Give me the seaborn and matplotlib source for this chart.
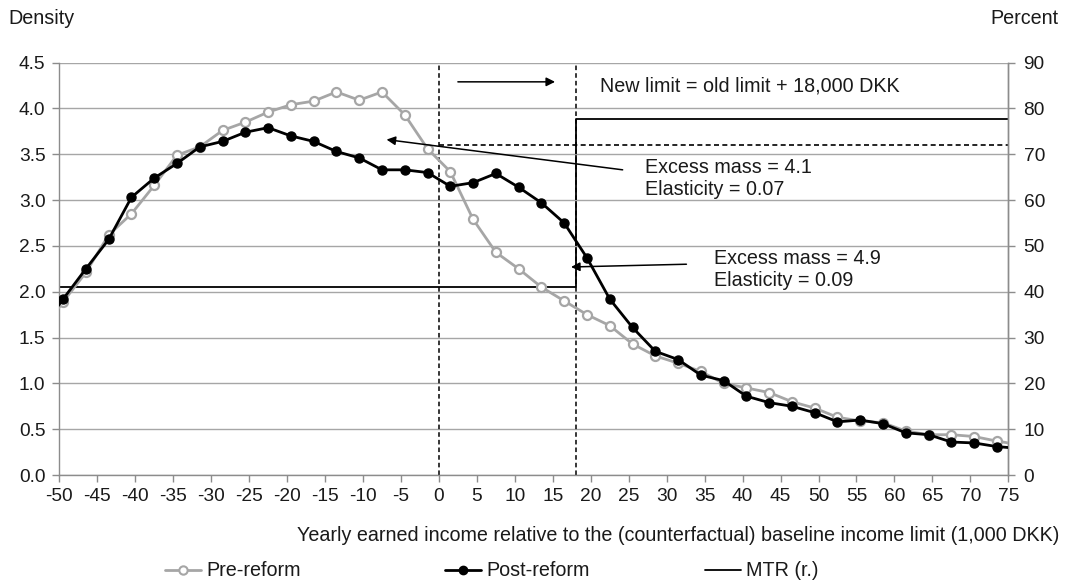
import matplotlib
matplotlib.use("Agg")
import matplotlib.pyplot as plt
import seaborn as sns
import pandas as pd
from matplotlib.lines import Line2D

# ---- data ----
income_bins = [-52.5, -49.5, -46.5, -43.5, -40.5, -37.5, -34.5, -31.5, -28.5, -25.5,
               -22.5, -19.5, -16.5, -13.5, -10.5, -7.5, -4.5, -1.5, 1.5, 4.5,
               7.5, 10.5, 13.5, 16.5, 19.5, 22.5, 25.5, 28.5, 31.5, 34.5,
               37.5, 40.5, 43.5, 46.5, 49.5, 52.5, 55.5, 58.5, 61.5, 64.5,
               67.5, 70.5, 73.5, 76.5]
pre_reform = [1.55, 1.89, 2.21, 2.62, 2.85, 3.16, 3.49, 3.58, 3.76, 3.85,
              3.96, 4.04, 4.08, 4.18, 4.09, 4.18, 3.93, 3.56, 3.31, 2.79,
              2.43, 2.25, 2.05, 1.90, 1.75, 1.63, 1.43, 1.30, 1.22, 1.13,
              1.00, 0.95, 0.90, 0.80, 0.73, 0.63, 0.59, 0.57, 0.48, 0.44,
              0.44, 0.42, 0.37, 0.33]
post_reform = [1.58, 1.92, 2.25, 2.57, 3.03, 3.24, 3.40, 3.58, 3.64, 3.74,
               3.79, 3.70, 3.64, 3.53, 3.46, 3.33, 3.33, 3.30, 3.15, 3.19,
               3.29, 3.14, 2.97, 2.75, 2.37, 1.92, 1.61, 1.35, 1.26, 1.09,
               1.03, 0.86, 0.79, 0.75, 0.68, 0.58, 0.60, 0.56, 0.46, 0.44,
               0.36, 0.35, 0.31, 0.29]
mtr_x = [-50, 18, 75]
mtr_values = [41, 77.7, 77.7]
old_mtr_x = [0, 75]
old_mtr_values = [72, 72]
old_limit = 0
new_limit = 18
x_ticks = list(range(-50, 80, 5))
y_ticks = [0.0, 0.5, 1.0, 1.5, 2.0, 2.5, 3.0, 3.5, 4.0, 4.5]
pct_ticks = [0, 10, 20, 30, 40, 50, 60, 70, 80, 90]
labels = ["Pre-reform", "Post-reform", "MTR (r.)"]
x_label = "Yearly earned income relative to the (counterfactual) baseline income limit (1,000 DKK)"
text_limit = "New limit = old limit + 18,000 DKK"
text_em1 = "Excess mass = 4.1\nElasticity = 0.07"
text_em2 = "Excess mass = 4.9\nElasticity = 0.09"

df = pd.DataFrame({"income": income_bins, "pre": pre_reform, "post": post_reform})

sns.set_theme(style="white")
plt.rcParams["font.family"] = ["Liberation Sans", "DejaVu Sans"]
plt.rcParams["axes.unicode_minus"] = False
TXT = "#1a1a1a"
GRAY = "#A6A6A6"
AX = "#8c8c8c"
FS = 14.2
TFS = 13.8

fig = plt.figure(figsize=(10.67, 5.85), dpi=100)
ax = fig.add_axes([0.0556, 0.188, 0.8894, 0.705])
ax2 = ax.twinx()

# MTR (right axis)
ax2.plot(mtr_x, mtr_values, drawstyle="steps-post", color="black", lw=1.3, zorder=2)
ax2.plot(old_mtr_x, old_mtr_values, color="black", lw=1.2, ls=(0, (3, 2)), zorder=2)
ax2.set_ylim(0, 90)
ax2.set_yticks(pct_ticks)

# densities
sns.lineplot(data=df, x="income", y="pre", ax=ax, color=GRAY, lw=2, marker="o",
             markersize=6.5, markerfacecolor="white", markeredgecolor=GRAY,
             markeredgewidth=1.6, zorder=3)
sns.lineplot(data=df, x="income", y="post", ax=ax, color="black", lw=2, marker="o",
             markersize=6.5, markerfacecolor="black", markeredgecolor="black",
             markeredgewidth=1, zorder=4)

ax.set_zorder(ax2.get_zorder() + 1)
ax.patch.set_visible(False)

for xv in (old_limit, new_limit):
    ax.axvline(xv, color="black", lw=1.1, ls=(0, (3, 2)), zorder=2)

ax.set_xlim(-50, 75)
ax.set_ylim(0, 4.5)
ax.set_xticks(x_ticks)
ax.set_yticks(y_ticks)
ax.set_yticklabels([f"{v:.1f}" for v in y_ticks])
ax.set_xlabel("")
ax.set_ylabel("")
ax.yaxis.grid(True, color=GRAY, lw=1)
ax.xaxis.grid(False)

for a in (ax, ax2):
    a.spines["top"].set_visible(False)
    for s in ("left", "right", "bottom"):
        a.spines[s].set_color(AX)
        a.spines[s].set_linewidth(1)
    a.tick_params(axis="both", colors=AX, labelcolor=TXT, labelsize=TFS,
                  length=5, width=1, direction="out")
ax.tick_params(axis="y", left=True, right=False, pad=5)
ax.tick_params(axis="x", bottom=True, pad=4)
ax2.tick_params(axis="y", right=True, pad=6)
ax2.spines["left"].set_visible(False)
ax2.spines["bottom"].set_visible(False)

# annotations
arr = dict(arrowstyle="-|>", color="black", lw=1.1, mutation_scale=13, shrinkA=0, shrinkB=0)
ax.annotate("", xy=(15.3, 4.29), xytext=(2.5, 4.29), arrowprops=arr, zorder=5)
ax.text(21.2, 4.24, text_limit, fontsize=FS, color=TXT, va="center", ha="left")
ax.annotate("", xy=(-6.9, 3.66), xytext=(24.2, 3.33), arrowprops=arr, zorder=5)
ax.text(27.1, 3.24, text_em1, fontsize=FS, color=TXT, va="center", ha="left", linespacing=1.2)
ax.annotate("", xy=(17.4, 2.27), xytext=(32.6, 2.30), arrowprops=arr, zorder=5)
ax.text(36.2, 2.24, text_em2, fontsize=FS, color=TXT, va="center", ha="left", linespacing=1.2)

# axis titles
fig.text(0.008, 0.968, "Density", fontsize=FS, color=TXT, ha="left", va="center")
fig.text(0.992, 0.968, "Percent", fontsize=FS, color=TXT, ha="right", va="center")
fig.text(0.993, 0.085, x_label, fontsize=FS, color=TXT, ha="right", va="center")

# legend (three entries spread across the bottom)
handles = [
    Line2D([], [], color=GRAY, lw=2, marker="o", markersize=6, markerfacecolor="white",
           markeredgecolor=GRAY, markeredgewidth=1.5),
    Line2D([], [], color="black", lw=2, marker="o", markersize=6, markerfacecolor="black"),
    Line2D([], [], color="black", lw=1.3),
]
for h, lab, xpx in zip(handles, labels, (165, 445, 705)):
    fig.legend([h], [lab], loc="center left", bbox_to_anchor=(xpx / 1067, 0.024),
               frameon=False, fontsize=FS, handlelength=1.8, handletextpad=0.3,
               borderpad=0, borderaxespad=0, labelcolor=TXT)

fig.savefig("out.png", dpi=100)
